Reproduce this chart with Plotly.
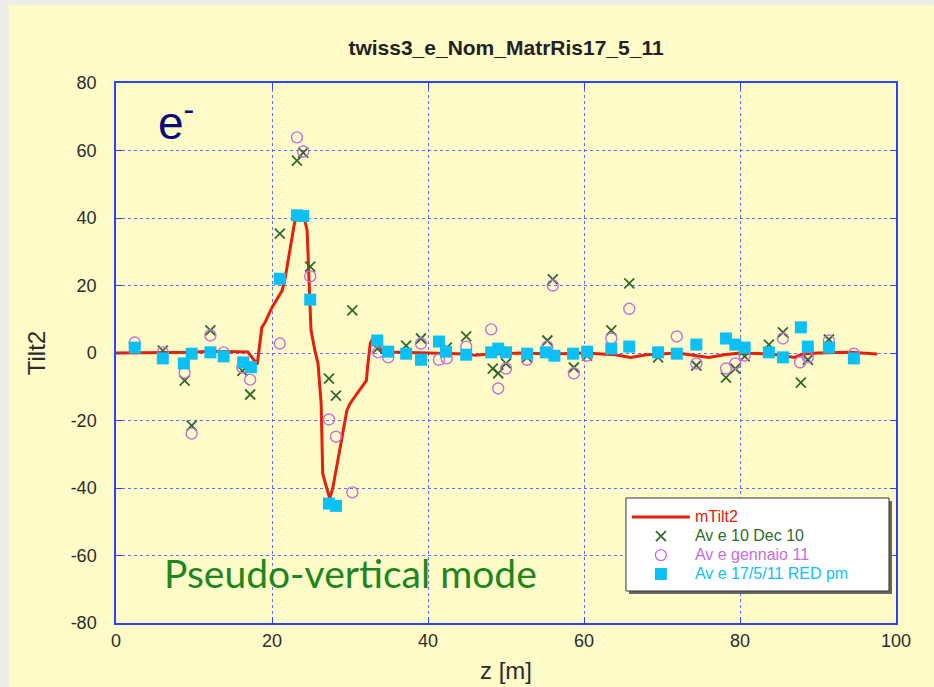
import plotly.graph_objects as go

# mTilt2 model curve along the ring
model_z = [0, 5, 10, 12, 16, 16.9, 17.5, 18.1, 18.7, 19.1, 20, 21.3, 21.7, 22.3, 22.7, 22.9, 23.2,
           24.2, 24.5, 24.7, 24.9, 25.0, 25.5, 25.9, 26.3, 26.4, 26.5, 27.0, 27.4, 27.8, 28.4, 28.9,
           29.6, 30, 30.9, 31.7, 32.1, 32.3, 32.6, 33.0, 33.4, 34, 35, 40, 45, 46, 48, 52, 56, 60,
           64, 66, 68, 72, 74, 76, 78, 80, 84, 86, 87, 88, 90, 94, 97.6]
model_tilt = [0, 0, 0.2, 0.5, 0.5, 0.3, -1.5, -3.4, 7.6, 9, 13.5, 18.5, 22.4, 30.4, 35.7, 38.7, 40.2,
              39.3, 36.4, 25.4, 16.4, 6.7, 0.7, -3.1, -14.9, -26.8, -35.7, -39.9, -43.1, -39.9, -32.7, -26,
              -17, -15, -12, -9.6, -8.2, -3.1, 2.8, 4.6, 3.7, 1, 0.3, 0, -0.3, -0.7, -0.3, 0, -0.3, 0,
              -0.5, -1.3, -0.5, 0, -0.7, -1.3, -0.5, 0, -0.3, -1.0, -1.3, -0.3, 0, 0.2, -0.3]

# Av e 10 Dec 10
dec_z = [6.0, 12.1, 8.8, 16.2, 17.2, 9.7, 21.0, 23.2, 24.0, 24.9, 30.3, 27.3, 28.2, 33.5, 37.2, 39.1,
         42.4, 44.9, 48.3, 49.0, 50.0, 52.7, 55.3, 56.0, 58.7, 60.4, 63.5, 65.8, 69.5, 74.4, 78.2,
         79.4, 80.6, 83.7, 85.5, 87.8, 88.7, 91.4]
dec_tilt = [0.7, 6.7, -8.2, -5.3, -12.3, -21.5, 35.4, 57, 59.4, 25.6, 12.6, -7.6, -12.6, 1.3, 2.2, 4.3,
            1.6, 4.9, -4.6, -6, -3.1, -1.3, 3.7, 21.8, -4.3, -0.8, 6.7, 20.6, -1.3, -3.7, -7.3,
            -4.6, -1, 2.5, 6.1, -8.8, -2, 4]

# Av e gennaio 11
gen_z = [2.4, 6.0, 12.1, 8.8, 13.8, 17.2, 16.2, 9.7, 21.0, 23.2, 24.0, 24.9, 27.3, 28.2, 30.3, 33.6,
         34.9, 39.1, 41.4, 42.4, 44.9, 48.1, 49.0, 50.0, 52.7, 55.3, 56.0, 58.7, 60.4, 63.5, 65.8,
         71.9, 74.4, 78.2, 79.4, 80.6, 85.5, 87.7, 88.7, 91.4, 94.6]
gen_tilt = [3.1, 0.2, 5.2, -5.8, 0.2, -7.9, -4.3, -23.9, 2.8, 63.9, 59.7, 22.7, -19.7, -24.8, -41.3, 0.2,
            -1.3, 2.8, -2, -1.6, 1.9, 7, -10.5, -4.6, -2, 1.9, 20, -6, -0.8, 4.3, 13.1,
            4.9, -3.1, -4.6, -3.1, -0.8, 4.3, -2.8, -1.3, 3.7, -0.2]

# Av e 17/5/11 RED pm
red_z = [2.4, 6.0, 8.7, 9.7, 12.1, 13.8, 16.3, 17.3, 21.0, 23.2, 24.0, 24.9, 27.3, 28.2, 33.5, 34.9,
         37.2, 39.1, 41.4, 42.3, 44.9, 48.1, 49.0, 50.0, 52.7, 55.1, 56.2, 58.6, 60.4, 63.5, 65.8,
         69.5, 71.9, 74.4, 78.2, 79.4, 80.6, 83.7, 85.5, 87.8, 88.7, 91.4, 94.6]
red_tilt = [1.6, -1.6, -3.1, -0.2, 0.2, -1, -2.8, -4.2, 22, 40.8, 40.6, 15.8, -44.6, -45.3, 3.7, 0.4,
            -0.2, -2, 3.4, 0.4, -0.5, 0.2, 1.3, 0.2, -0.2, 0.2, -0.8, -0.2, 0.4, 1.3, 1.9,
            0.2, -0.2, 2.5, 4.3, 2.5, 1.6, 0.2, -1.3, 7.6, 1.9, 1.6, -1.6]

x_ticks = [0, 20, 40, 60, 80, 100]
y_ticks = [-80, -60, -40, -20, 0, 20, 40, 60, 80]

PAGE_BG = "#FFFBC9"
SIDE_GRAY = "#EEEDE8"
AXIS_BLUE = "#2A45F5"
GRID_BLUE = "#5570FF"

C_MODEL = "#E3200B"
C_DEC = "#2F6B2F"
C_GEN = "#C46EE0"
C_RED = "#0CC0F5"


def legend_label(text, color):
    # coloured legend text, a bit larger than the legend's row-height font
    return f"<span style='color:{color};font-size:16px'>{text}</span>"


fig = go.Figure()

fig.add_trace(go.Scatter(
    x=model_z, y=model_tilt, mode="lines",
    line=dict(color=C_MODEL, width=3),
    name=legend_label("mTilt2", C_MODEL)))
fig.add_trace(go.Scatter(
    x=dec_z, y=dec_tilt, mode="markers",
    marker=dict(symbol="x-thin", size=10, line=dict(color=C_DEC, width=1.8), color=C_DEC),
    name=legend_label("Av e 10 Dec 10", C_DEC)))
fig.add_trace(go.Scatter(
    x=gen_z, y=gen_tilt, mode="markers",
    marker=dict(symbol="circle-open", size=11, line=dict(color=C_GEN, width=1.4), color=C_GEN),
    name=legend_label("Av e gennaio 11", C_GEN)))
fig.add_trace(go.Scatter(
    x=red_z, y=red_tilt, mode="markers",
    marker=dict(symbol="square", size=12, color=C_RED, line=dict(width=0)),
    name=legend_label("Av e 17/5/11 RED pm", C_RED)))

axis_common = dict(
    showline=True, linecolor=AXIS_BLUE, linewidth=1.5, mirror="ticks",
    ticks="inside", ticklen=6, tickcolor=AXIS_BLUE, tickwidth=1,
    showgrid=True, gridcolor=GRID_BLUE, griddash="dot", gridwidth=1,
    zeroline=False, automargin=False,
    tickfont=dict(family="Liberation Sans", size=18, color="#2b2b2b"),
)

fig.update_xaxes(range=[0, 100], tickvals=x_ticks, ticktext=[str(v) for v in x_ticks],
                 ticklabelstandoff=1, **axis_common,
                 title=dict(text="z [m]", font=dict(family="Liberation Sans", size=24, color="#2b2b2b"),
                            standoff=12))
fig.update_yaxes(range=[-80, 80], tickvals=y_ticks, ticktext=[str(v) for v in y_ticks],
                 ticklabelstandoff=14, **axis_common,
                 title=dict(text="Tilt2", font=dict(family="Liberation Sans", size=24, color="#2b2b2b"),
                            standoff=18))

fig.add_annotation(x=7.7, y=69, xref="x", yref="y", text="e<sup>-</sup>", showarrow=False,
                   font=dict(family="Liberation Sans", size=46, color="#0A0A80"))
fig.add_annotation(x=30, y=-65.3, xref="x", yref="y", text="Pseudo-vertical mode", showarrow=False,
                   font=dict(family="Lato", size=39, color="#1D861D"))

# page border strips, legend box and its drop shadow
shapes = [
    dict(type="rect", xref="paper", yref="paper", x0=-0.16, x1=-0.1372, y0=-0.2, y1=1.2,
         fillcolor=SIDE_GRAY, line=dict(width=0), layer="below"),
    dict(type="rect", xref="paper", yref="paper", x0=-0.16, x1=1.1, y0=1.1444, y1=1.2,
         fillcolor=SIDE_GRAY, line=dict(width=0), layer="below"),
    dict(type="rect", xref="paper", yref="paper", x0=0.6577, x1=0.9949, y0=0.0537, y1=0.2259,
         fillcolor="#666666", line=dict(width=0), layer="above"),
    dict(type="rect", xref="paper", yref="paper", x0=0.6538, x1=0.991, y0=0.0593, y1=0.2315,
         fillcolor="white", line=dict(color="#333333", width=1), layer="above"),
]

fig.update_layout(
    width=934, height=687,
    margin=dict(l=116, r=38, t=83, b=64, autoexpand=False),
    paper_bgcolor=PAGE_BG, plot_bgcolor=PAGE_BG,
    title=dict(text="<b>twiss3_e_Nom_MatrRis17_5_11</b>", x=0.5, xref="paper", xanchor="center",
               y=1 - 48 / 687, yanchor="middle",
               font=dict(family="Liberation Sans", size=21, color="#222222")),
    shapes=shapes,
    legend=dict(x=0.655, y=0.223, xanchor="left", yanchor="top",
                bgcolor="rgba(0,0,0,0)", borderwidth=0,
                font=dict(family="Liberation Sans", size=12), itemwidth=58,
                tracegroupgap=0),
    showlegend=True,
)

fig.write_html("out.html")
